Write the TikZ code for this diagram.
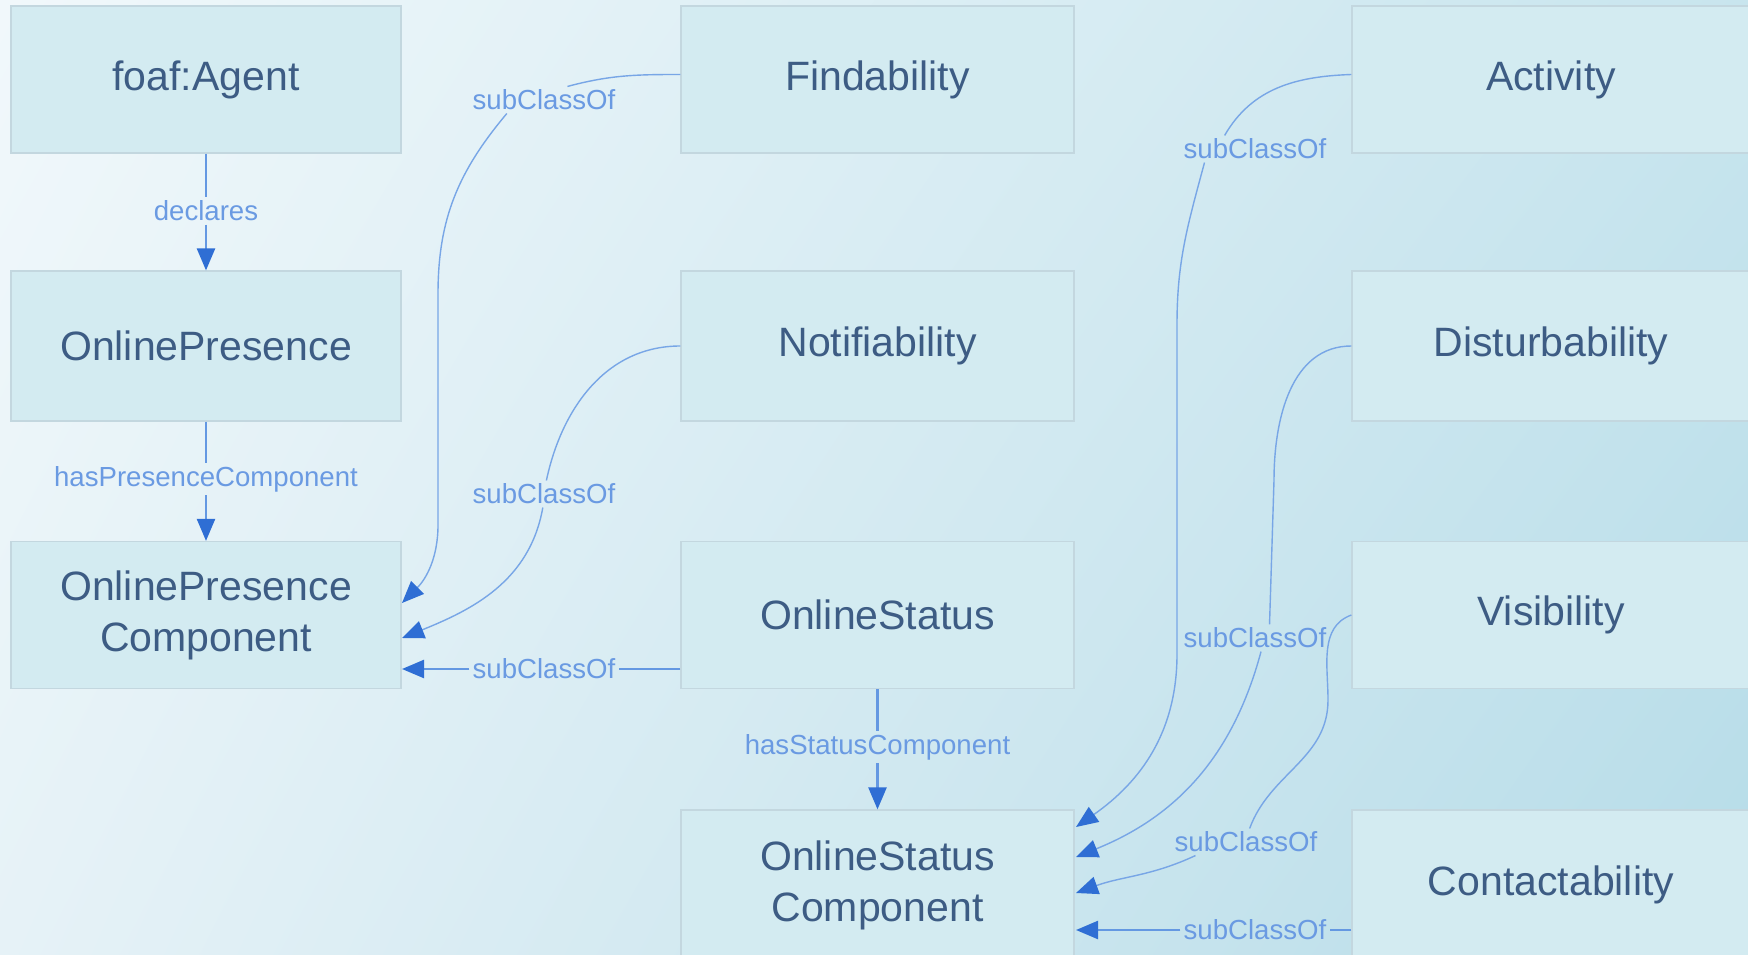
\documentclass[tikz,border=0pt]{standalone}
\usepackage{fontspec}
\setmainfont{Liberation Sans}
\usetikzlibrary{arrows.meta,calc,shadings}
\definecolor{boxfill}{HTML}{D3EBF1}
\definecolor{boxline}{HTML}{C3D7DF}
\definecolor{boxtext}{HTML}{3D5C84}
\definecolor{lbltext}{HTML}{6A9AE2}
\definecolor{curveline}{HTML}{78A6E6}
\definecolor{straightline}{HTML}{6498E2}
\definecolor{tipfill}{HTML}{2F6ED4}
\definecolor{bgUL}{HTML}{F1F8FB}
\definecolor{bgUR}{HTML}{C8E5EE}
\definecolor{bgLL}{HTML}{E6F2F7}
\definecolor{bgLR}{HTML}{B6DCE8}
\begin{document}
\begin{tikzpicture}[x=0.5pt,y=0.5pt,
  cls/.style={rectangle, draw=boxline, line width=0.6pt, fill=boxfill, text=boxtext,
    font=\fontsize{20.5}{25.5}\selectfont, align=center, inner sep=0pt},
  c1/.style={cls, minimum width=195pt},
  c2/.style={cls, minimum width=196.5pt},
  c3/.style={cls, minimum width=199pt},
  rA/.style={minimum height=73.5pt},
  rB/.style={minimum height=75pt},
  lbl/.style={text=lbltext, font=\fontsize{13.8}{16}\selectfont, inner sep=1.5pt},
  straight/.style={draw=straightline, line width=1.2pt},
  curvy/.style={draw=curveline, line width=0.7pt},
  tip/.style={-{Triangle[length=11pt,width=9pt,color=tipfill]}}
]
\shade[upper left=bgUL, upper right=bgUR, lower left=bgLL, lower right=bgLR] (0,0) rectangle (1748,954);
\useasboundingbox (0,0) rectangle (1748,954);
\clip (0,0) rectangle (1748,954);

% classes
\node[c1,rA] (foaf)  at (206,874.5) {foaf:Agent};
\node[c1,rB] (op)    at (206,608)   {OnlinePresence};
\node[c1,rA] (opc)   at (206,339)   {OnlinePresence\\Component};
\node[c2,rA] (find)  at (877.5,874.5) {Findability};
\node[c2,rB] (notif) at (877.5,608)   {Notifiability};
\node[c2,rA] (os)    at (877.5,339)   {OnlineStatus};
\node[c2,rB] (osc)   at (877.5,69)    {OnlineStatus\\Component};
\node[c3,rA] (act)   at (1551,874.5) {Activity};
\node[c3,rB] (dist)  at (1551,608)   {Disturbability};
\node[c3,rA] (vis)   at (1551,339)   {Visibility};
\node[c3,rB] (cont)  at (1551,69)    {Contactability};

% labels
\node[lbl] (ldecl)  at (206,743)  {declares};
\node[lbl] (lhpc)   at (206,475)  {hasPresenceComponent};
\node[lbl] (lfind)  at (544,854)  {subClassOf};
\node[lbl] (lnotif) at (544,460)  {subClassOf};
\node[lbl] (los)    at (544,285)  {subClassOf};
\node[lbl] (lhsc)   at (877.5,207) {hasStatusComponent};
\node[lbl] (lact)   at (1255,805) {subClassOf};
\node[lbl] (ldist)  at (1255,316) {subClassOf};
\node[lbl] (lvis)   at (1246,112) {subClassOf};
\node[lbl] (lcont)  at (1255,24)  {subClassOf};

% connector ends
\coordinate (opcA) at (402,351);
\coordinate (opcB) at (402,316);
\coordinate (opcC) at (402,285);
\coordinate (oscA) at (1076,127);
\coordinate (oscB) at (1076,97);
\coordinate (oscC) at (1076,61);
\coordinate (oscD) at (1076,24);
\coordinate (findL) at ($(find.west)+(0,5)$);
\coordinate (osL)   at (os.west |- opcC);
\coordinate (actL)  at ($(act.west)+(0,5)$);
\coordinate (contL) at (cont.west |- oscD);

% left column
\draw[straight] (foaf.south) -- (ldecl);
\draw[straight,tip] (ldecl) -- (op.north);
\draw[straight] (op.south) -- (lhpc);
\draw[straight,tip] (lhpc) -- (opc.north);

% into OnlinePresenceComponent
\draw[curvy] (findL) to[out=180,in=15] (lfind.30);
\draw[curvy,tip] (lfind.-160) to[out=-130,in=90] (438,660) -- (438,429) to[out=-90,in=45] (opcA);
\draw[curvy] (notif.west) to[out=180,in=78] (lnotif.80);
\draw[curvy,tip] (lnotif.-95) to[out=-100,in=22] (opcB);
\draw[straight] (osL) -- (los);
\draw[straight,tip] (los) -- (opcC);

% middle column
\draw[straight] (os.south) -- (lhsc);
\draw[straight,tip] (lhsc) -- (osc.north);

% into OnlineStatusComponent
\draw[curvy] (actL) to[out=182,in=60] (lact.156);
\draw[curvy,tip] (lact.-165) to[out=-105,in=90] (1177,630) -- (1177,300) to[out=-90,in=35] (oscA);
\draw[curvy] (dist.west) to[out=180,in=90] (1274,474) -- (ldist.43);
\draw[curvy,tip] (ldist.-66) to[out=-105,in=22] (oscB);
\draw[curvy] (vis.west) to[out=200,in=90] (1328,254) to[out=-90,in=70] (lvis.75);
\draw[curvy,tip] (lvis.-165) to[out=-155,in=20] (oscC);
\draw[straight] (contL) -- (lcont);
\draw[straight,tip] (lcont) -- (oscD);
\end{tikzpicture}
\end{document}
